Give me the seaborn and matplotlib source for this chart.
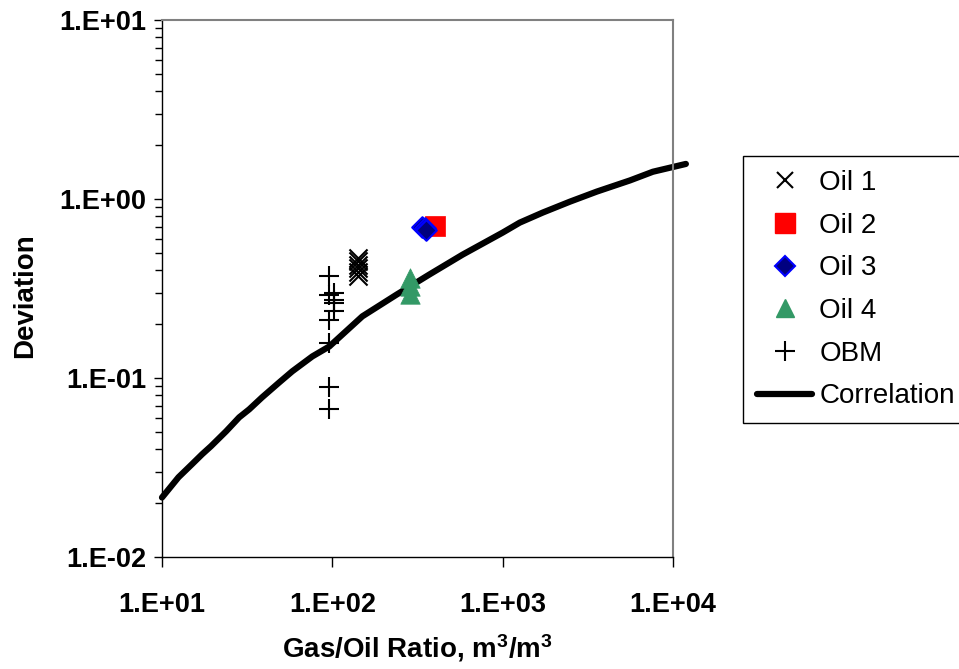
import numpy as np
import pandas as pd
import seaborn as sns
import matplotlib
matplotlib.use("Agg")
import matplotlib.pyplot as plt
from matplotlib.lines import Line2D
from matplotlib.ticker import (LogLocator, FuncFormatter, NullFormatter,
                               NullLocator, FixedLocator)

# ---- data -------------------------------------------------------------
gor_oil1 = [142, 142, 142, 142, 142, 142]
dev_oil1 = [0.47, 0.45, 0.43, 0.41, 0.39, 0.37]

gor_oil2 = [398]
dev_oil2 = [0.71]

gor_oil3 = [338, 348, 357]
dev_oil3 = [0.70, 0.69, 0.675]

gor_oil4 = [287, 287, 287]
dev_oil4 = [0.364, 0.328, 0.296]

gor_obm = [96, 96, 96, 96, 96, 96, 102, 102, 102, 102]
dev_obm = [0.373, 0.289, 0.212, 0.156, 0.0887, 0.0668, 0.299, 0.271, 0.264, 0.238]

gor_corr = [10, 12.5, 15, 17.2, 19.4, 23.8, 28.4, 32.5, 38.7, 48.8, 58.2, 76.3, 96,
            150, 238, 372, 582, 1000, 1260, 1720, 2480, 3570, 5590, 7620, 11900]
dev_corr = [0.0215, 0.0279, 0.033, 0.0375, 0.0416, 0.0504, 0.0603, 0.0668, 0.078,
            0.0945, 0.109, 0.132, 0.150, 0.221, 0.292, 0.379, 0.489, 0.649, 0.738,
            0.84, 0.966, 1.10, 1.27, 1.42, 1.57]

series_names = ["Oil 1", "Oil 2", "Oil 3", "Oil 4", "OBM", "Correlation"]
x_ticks = [1e1, 1e2, 1e3, 1e4]
y_ticks = [1e-2, 1e-1, 1e0, 1e1]

# ---- style ------------------------------------------------------------
sns.set_theme(style="white")
plt.rcParams["font.family"] = ["Liberation Sans", "DejaVu Sans"]
plt.rcParams["mathtext.fontset"] = "custom"
plt.rcParams["mathtext.rm"] = "Liberation Sans:bold"
plt.rcParams["mathtext.default"] = "rm"
for key in ("text.color", "axes.labelcolor", "xtick.color", "ytick.color"):
    plt.rcParams[key] = "black"

W, H = 959, 669
fig = plt.figure(figsize=(W / 100, H / 100), dpi=100)
fig.patch.set_facecolor("white")
ax = fig.add_axes([162 / W, 1 - 557 / H, (673 - 162) / W, (557 - 20) / H])
ax.set_facecolor("white")
ax.set_xscale("log")
ax.set_yscale("log")

# correlation curve
sns.lineplot(x=gor_corr, y=dev_corr, ax=ax, color="black", lw=4.5,
             sort=False, estimator=None, clip_on=False, zorder=2, legend=False)

# measured points
sns.scatterplot(x=gor_obm, y=dev_obm, ax=ax, marker="+", color="black",
                s=15 ** 2, linewidth=1.5, zorder=3, legend=False, clip_on=False)
sns.scatterplot(x=gor_oil1, y=dev_oil1, ax=ax, marker="x", color="black",
                s=13 ** 2, linewidth=1.5, zorder=3, legend=False)
sns.scatterplot(x=gor_oil2, y=dev_oil2, ax=ax, marker="s", color="#FF0000",
                edgecolor="#FF0000", s=14 ** 2, linewidth=0.5, zorder=3, legend=False)
sns.scatterplot(x=gor_oil3, y=dev_oil3, ax=ax, marker="D", color="#000080",
                edgecolor="#0000FF", s=10.5 ** 2, linewidth=1.5, zorder=4, legend=False)
sns.scatterplot(x=gor_oil4, y=dev_oil4, ax=ax, marker="^", color="#339966",
                edgecolor="#339966", s=14 ** 2, linewidth=0.5, zorder=3, legend=False)

# ---- axes ---------------------------------------------------------------
ax.set_xlim(x_ticks[0], x_ticks[-1])
ax.set_ylim(y_ticks[0], y_ticks[-1])

def sci_label(v, pos=None):
    e = int(round(np.log10(v)))
    return f"1.E{e:+03d}"

ax.xaxis.set_major_locator(FixedLocator(x_ticks))
ax.xaxis.set_minor_locator(NullLocator())
ax.xaxis.set_major_formatter(FuncFormatter(sci_label))
ax.yaxis.set_major_locator(FixedLocator(y_ticks))
ax.yaxis.set_minor_locator(LogLocator(base=10, subs=np.arange(2, 10)))
ax.yaxis.set_minor_formatter(NullFormatter())
ax.yaxis.set_major_formatter(FuncFormatter(sci_label))

ax.tick_params(axis="x", which="major", direction="out", length=7, width=1,
               color="black", pad=18, labelsize=19.5, bottom=True, top=False)
ax.tick_params(axis="y", which="major", direction="out", length=6, width=1,
               color="black", pad=5, labelsize=19.5, left=True, right=False)
ax.tick_params(axis="y", which="minor", direction="out", length=5, width=1,
               color="black", left=True, right=False)
for lab in ax.get_xticklabels() + ax.get_yticklabels():
    lab.set_fontweight("bold")

for side in ("left", "bottom"):
    ax.spines[side].set_color("black")
    ax.spines[side].set_linewidth(1.0)
for side in ("top", "right"):
    ax.spines[side].set_color("#808080")
    ax.spines[side].set_linewidth(1.5)

ax.set_xlabel(r"Gas/Oil Ratio, m$^{3}$/m$^{3}$", fontsize=20, fontweight="bold")
ax.set_ylabel("Deviation", fontsize=20, fontweight="bold")
ax.xaxis.set_label_coords(0.5, (557 - 648) / 537, transform=ax.transAxes)
ax.yaxis.set_label_coords((25 - 162) / 511, 0.5 - (296 - 288.5) / 537,
                          transform=ax.transAxes)
ax.xaxis.label.set_va("center")
ax.yaxis.label.set_va("center")

# ---- legend -------------------------------------------------------------
handles = [
    Line2D([], [], ls="none", marker="x", color="black", ms=12, mew=1.5),
    Line2D([], [], ls="none", marker="s", color="#FF0000", ms=14),
    Line2D([], [], ls="none", marker="D", mfc="#000080", mec="#0000FF", ms=10, mew=1.5),
    Line2D([], [], ls="none", marker="^", color="#339966", ms=13),
    Line2D([], [], ls="none", marker="+", color="black", ms=14, mew=1.5),
    Line2D([], [], color="black", lw=4.5),
]
leg = fig.legend(handles, series_names, loc="upper left",
                 bbox_to_anchor=(743 / W, 1 - 156 / H), borderaxespad=0,
                 fontsize=20, frameon=True, fancybox=False, shadow=False,
                 framealpha=1, edgecolor="black", borderpad=0.5,
                 handlelength=2.0, handletextpad=0.25, labelspacing=0.6)
leg.get_frame().set_linewidth(1.0)

fig.savefig("out.png", dpi=100, facecolor="white")
